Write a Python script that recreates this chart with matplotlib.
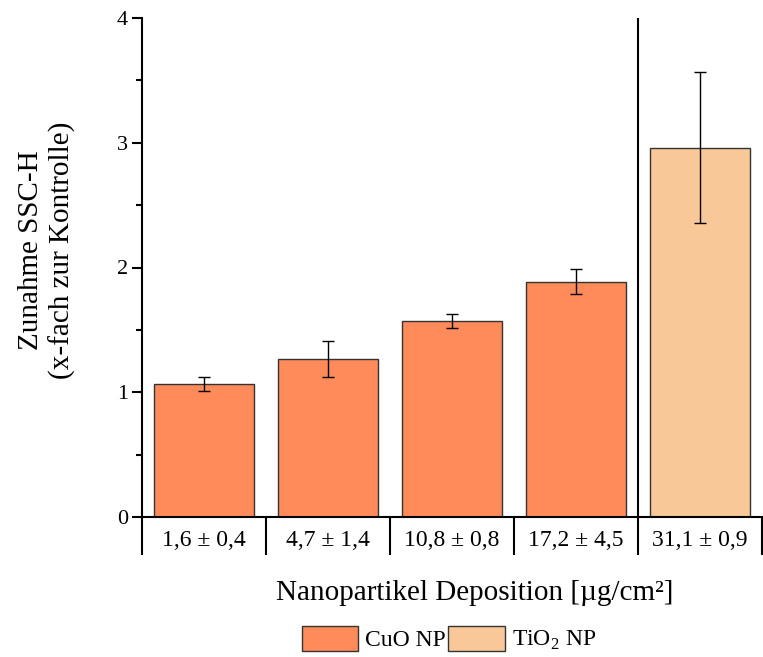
import matplotlib
matplotlib.use("Agg")
import matplotlib.pyplot as plt
from matplotlib.patches import Patch
import numpy as np

plt.rcParams['font.family'] = ['Liberation Serif', 'DejaVu Serif']
plt.rcParams['mathtext.fontset'] = 'custom'
plt.rcParams['mathtext.rm'] = 'Liberation Serif'

# data
labels = ["1,6 \u00b1 0,4", "4,7 \u00b1 1,4", "10,8 \u00b1 0,8", "17,2 \u00b1 4,5", "31,1 \u00b1 0,9"]
values = [1.065, 1.267, 1.571, 1.886, 2.96]
errors = [0.055, 0.145, 0.055, 0.10, 0.605]
groups = ["CuO", "CuO", "CuO", "CuO", "TiO2"]

colors = {"CuO": "#FE8B59", "TiO2": "#F9C898"}

fig = plt.figure(figsize=(7.63, 6.57), dpi=100)
ax = fig.add_axes([142/763, (657-517)/657, 620/763, 499/657])

x = np.arange(len(values))
ax.bar(x, values, width=0.8, color=[colors[g] for g in groups],
       edgecolor="#333333", linewidth=1.0, zorder=2)
ax.errorbar(x, values, yerr=errors, fmt="none", ecolor="black",
            elinewidth=1.0, capsize=4, capthick=1.0, zorder=3)

# separator between CuO and TiO2
ax.axvline(3.5, color="black", linewidth=1.5, zorder=1)

ax.set_xlim(-0.5, 4.5)
ax.set_ylim(0, 4)
ax.spines['top'].set_visible(False)
ax.spines['right'].set_visible(False)
ax.spines['left'].set_linewidth(1.5)
ax.spines['bottom'].set_linewidth(1.5)

ax.set_yticks([0, 1, 2, 3, 4])
ax.set_yticks(np.arange(0.5, 4, 1.0), minor=True)
ax.tick_params(axis='y', which='major', direction='out', length=7, width=1.5,
               labelsize=16, pad=3)
ax.tick_params(axis='y', which='minor', direction='out', length=4, width=1.5)

# boundaries as long ticks, labels centered in each cell
ax.set_xticks(np.arange(-0.5, 5, 1.0))
ax.set_xticklabels([])
ax.tick_params(axis='x', which='major', direction='out', length=27, width=1.5)
ax.set_xticks(x, minor=True)
ax.set_xticklabels(labels, minor=True)
ax.tick_params(axis='x', which='minor', length=0, labelsize=17, pad=9)

fig.text(47/763, 1-250/657, "Zunahme SSC-H\n(x-fach zur Kontrolle)",
         rotation=90, ha='center', va='center', fontsize=21, linespacing=1.2)
fig.text(475/763, 1-593/657, "Nanopartikel Deposition [\u00b5g/cm\u00b2]",
         ha='center', va='center', fontsize=21)

handles = [Patch(facecolor=colors["CuO"], edgecolor="#333333"),
           Patch(facecolor=colors["TiO2"], edgecolor="#333333")]
fig.legend(handles, ["CuO NP", "TiO$_2$ NP"], loc='center',
           bbox_to_anchor=(449/763, 1-639/657), ncol=2, frameon=False,
           fontsize=17, handlelength=2.4, handleheight=1.3,
           handletextpad=0.3, columnspacing=0.1, borderpad=0.2)

fig.savefig("out.png", dpi=100)
